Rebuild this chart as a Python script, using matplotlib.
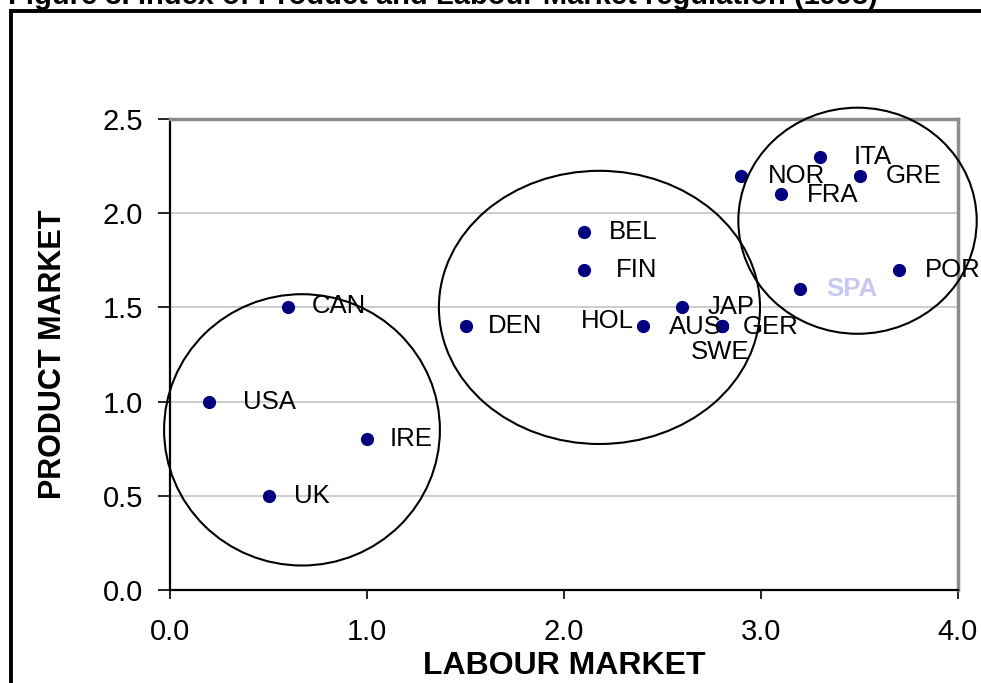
import matplotlib.pyplot as plt
from matplotlib.patches import Ellipse
from matplotlib.lines import Line2D

# --- data ---
countries = ["CAN", "USA", "IRE", "UK", "DEN", "BEL", "FIN", "HOL", "AUS",
             "GER", "SWE", "JAP", "NOR", "ITA", "GRE", "FRA", "SPA", "POR"]
labour = [0.6, 0.2, 1.0, 0.5, 1.5, 2.1, 2.1, 2.4, 2.8,
          2.8, 2.8, 2.6, 2.9, 3.3, 3.5, 3.1, 3.2, 3.7]
product = [1.5, 1.0, 0.8, 0.5, 1.4, 1.9, 1.7, 1.4, 1.4,
           1.4, 1.4, 1.5, 2.2, 2.3, 2.2, 2.1, 1.6, 1.7]

# cluster circles: centre x, centre y, width, height (data units)
cluster_x = [0.67, 2.18, 3.49]
cluster_y = [0.85, 1.50, 1.96]
cluster_w = [1.40, 1.63, 1.21]
cluster_h = [1.44, 1.45, 1.20]

xticks = [0.0, 1.0, 2.0, 3.0, 4.0]
yticks = [0.0, 0.5, 1.0, 1.5, 2.0, 2.5]

# label offsets in pixels (dx, dy, ha)
label_pos = {
    "CAN": (24, 1, "left"), "USA": (34, 0, "left"), "IRE": (23, 0, "left"),
    "UK": (26, 0, "left"), "DEN": (22, 0, "left"), "BEL": (25, 0, "left"),
    "FIN": (32, 0, "left"), "HOL": (-9, 5, "right"), "AUS": (-53, -1, "left"),
    "GER": (21, -1, "left"), "SWE": (-31, -26, "left"), "JAP": (25, 0, "left"),
    "NOR": (27, 0, "left"), "ITA": (34, 0, "left"), "GRE": (26, 0, "left"),
    "FRA": (26, -1, "left"), "SPA": (26, 0, "left"), "POR": (26, 0, "left"),
}

plt.rcParams["font.family"] = ["Liberation Sans", "DejaVu Sans"]
narrow = ["Liberation Sans Narrow", "Liberation Sans", "DejaVu Sans"]

fig = plt.figure(figsize=(9.81, 6.83), dpi=100)
ax = fig.add_axes([170 / 981, 1 - 590 / 683, 788 / 981, 471 / 683])

ax.set_xlim(0, 4)
ax.set_ylim(0, 2.5)
ax.set_yticks(yticks)
ax.set_xticks(xticks)
ax.set_yticklabels([f"{v:.1f}" for v in yticks], fontsize=21)
ax.set_xticklabels([f"{v:.1f}" for v in xticks], fontsize=21)
ax.tick_params(axis="y", direction="out", length=8.5, width=1.2, pad=11, color="black")
ax.tick_params(axis="x", direction="out", length=6.5, width=1.2, pad=14, color="black")

ax.yaxis.grid(True, color="#c4c4c4", linewidth=1.2)
ax.set_axisbelow(True)

for side in ["left", "bottom"]:
    ax.spines[side].set_color("black")
    ax.spines[side].set_linewidth(1.6)
for side in ["top", "right"]:
    ax.spines[side].set_color("#8c8c8c")
    ax.spines[side].set_linewidth(2.5)

ax.scatter(labour, product, s=72, color="#000080", zorder=3, clip_on=False)

for c, x, y in zip(countries, labour, product):
    dx, dy, ha = label_pos[c]
    kw = dict(color="#c8c8f0", fontweight="bold") if c == "SPA" else dict(color="black")
    ax.annotate(c, (x, y), xytext=(dx, dy), textcoords="offset pixels",
                ha=ha, va="center", fontsize=18.5, annotation_clip=False, **kw)

for cx, cy, w, h in zip(cluster_x, cluster_y, cluster_w, cluster_h):
    ax.add_patch(Ellipse((cx, cy), w, h, fill=False, edgecolor="black",
                         linewidth=1.5, clip_on=False, zorder=4))

ax.set_xlabel("LABOUR MARKET", fontsize=23, fontweight="bold", family=narrow, labelpad=3)
ax.set_ylabel("PRODUCT MARKET", fontsize=22, fontweight="bold", family=narrow, labelpad=25)

# outer frame and cut-off title
fig.add_artist(Line2D([11 / 981, 11 / 981], [0, 1 - 11 / 683], transform=fig.transFigure,
                      color="black", linewidth=2.8))
fig.add_artist(Line2D([11 / 981, 1], [1 - 11 / 683, 1 - 11 / 683], transform=fig.transFigure,
                      color="black", linewidth=2.8))
fig.text(8 / 981, 1 - 4 / 683, "Figure 3. Index of Product and Labour Market regulation (1998)",
         fontsize=21, fontweight="bold", va="baseline", ha="left")

fig.savefig("out.png", dpi=100)
